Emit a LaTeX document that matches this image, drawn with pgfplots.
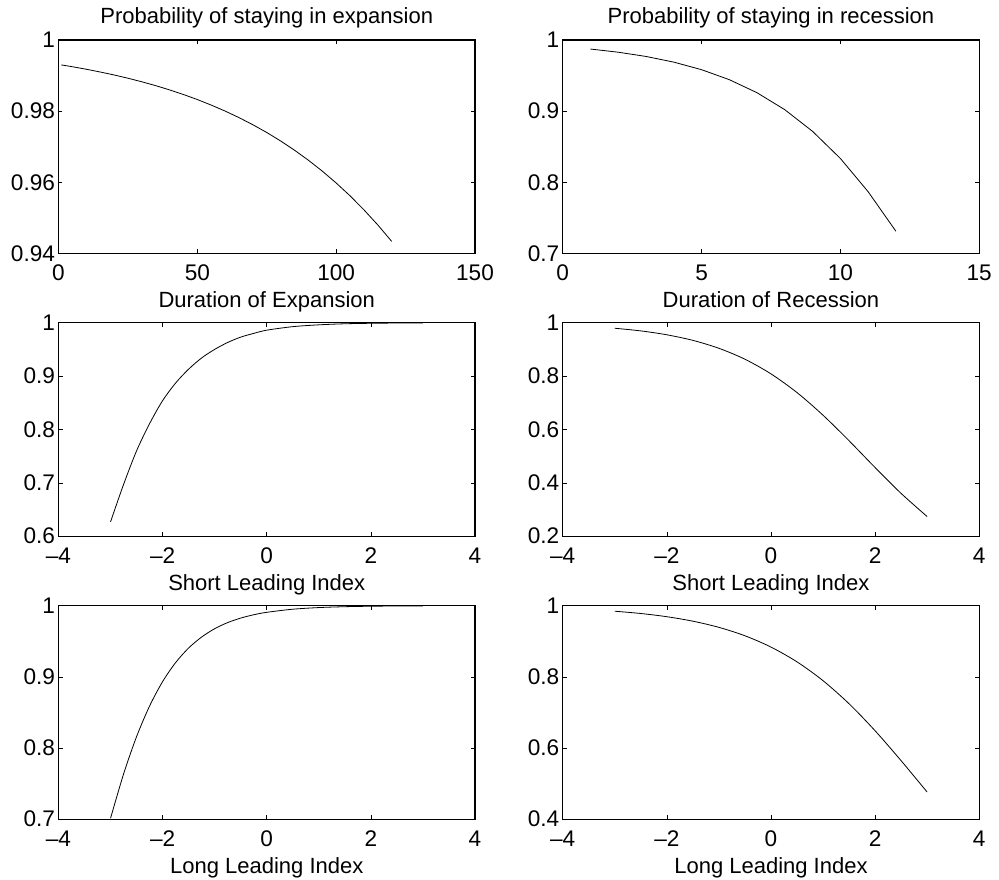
\documentclass[border=0pt]{standalone}
\usepackage{pgfplots}
\pgfplotsset{compat=1.18}
\usepackage{fontspec}
\setmainfont{Liberation Sans}
\newcommand{\fs}{\fontsize{22}{26}\selectfont}
\newcommand{\ft}{\fontsize{22.6}{26}\selectfont}
\pgfplotsset{
  mat/.style={
    scale only axis, width=416.5pt, height=213.5pt, anchor=north west,
    axis line style={line width=1.1pt},
    every tick/.style={black, line width=0.6pt},
    major tick length=4pt, tick align=inside,
    xtick pos=both, ytick pos=both, xticklabel pos=lower, yticklabel pos=left,
    tick label style={font=\ft},
    xticklabel style={yshift=-8pt},
    label style={font=\fs},
    xlabel style={yshift=-4pt},
    title style={font=\fs, yshift=2pt},
    /pgf/number format/assume math mode=true,
    scaled ticks=false, clip=true,
  },
  cur/.style={black, line width=0.8pt, mark=none},
}
\begin{document}
\begin{tikzpicture}
\useasboundingbox (0,0) rectangle (999pt,-880pt);
% Top left
\begin{axis}[mat, at={(58.5pt,-40pt)},
  title={Probability of staying in expansion}, xlabel={Duration of Expansion},
  xmin=0, xmax=150, ymin=0.94, ymax=1,
  xtick={0,50,100,150}, xticklabels={0,50,100,150},
  ytick={0.94,0.96,0.98,1}, yticklabels={0.94,0.96,0.98,1}]
\addplot[cur] coordinates {(1,0.9930) (5,0.99249) (10,0.99178) (15,0.99101) (20,0.99018) (25,0.98926) (30,0.98826) (35,0.98717) (40,0.98598) (45,0.98468) (50,0.98327) (55,0.98171) (60,0.98003) (65,0.97819) (70,0.97618) (75,0.97401) (80,0.97162) (85,0.96903) (90,0.96621) (95,0.96315) (100,0.95982) (105,0.95621) (110,0.95227) (115,0.94802) (120,0.94340)};
\end{axis}
% Top right
\begin{axis}[mat, at={(562.7pt,-40pt)},
  title={Probability of staying in recession}, xlabel={Duration of Recession},
  xmin=0, xmax=15, ymin=0.7, ymax=1,
  xtick={0,5,10,15}, xticklabels={0,5,10,15},
  ytick={0.7,0.8,0.9,1}, yticklabels={0.7,0.8,0.9,1}]
\addplot[cur] coordinates {(1,0.98729) (2,0.98284) (3,0.97689) (4,0.96891) (5,0.95829) (6,0.94428) (7,0.92588) (8,0.90202) (9,0.87158) (10,0.83357) (11,0.78682) (12,0.73126)};
\end{axis}
% Middle left
\begin{axis}[mat, at={(58.5pt,-322.7pt)},
  xlabel={Short Leading Index},
  xmin=-4, xmax=4, ymin=0.6, ymax=1,
  xtick={-4,-2,0,2,4}, xticklabels={\textendash4,\textendash2,0,2,4},
  ytick={0.6,0.7,0.8,0.9,1}, yticklabels={0.6,0.7,0.8,0.9,1}]
\addplot[cur, smooth] coordinates {(-3,0.627) (-2.75,0.697) (-2.5,0.760) (-2.25,0.811) (-2,0.854) (-1.75,0.887) (-1.5,0.913) (-1.25,0.934) (-1,0.950) (-0.75,0.963) (-0.5,0.973) (-0.25,0.980) (0,0.986) (0.5,0.9926) (1,0.996) (1.5,0.998) (2,0.9989) (2.5,0.9994) (3,0.9997)};
\end{axis}
% Middle right
\begin{axis}[mat, at={(562.7pt,-322.7pt)},
  xlabel={Short Leading Index},
  xmin=-4, xmax=4, ymin=0.2, ymax=1,
  xtick={-4,-2,0,2,4}, xticklabels={\textendash4,\textendash2,0,2,4},
  ytick={0.2,0.4,0.6,0.8,1}, yticklabels={0.2,0.4,0.6,0.8,1}]
\addplot[cur, smooth] coordinates {(-3,0.97924) (-2.5,0.96929) (-2,0.95474) (-1.5,0.93383) (-1,0.90413) (-0.5,0.86318) (0,0.80830) (0.5,0.73828) (1,0.65340) (1.5,0.55775) (2,0.45735) (2.5,0.36032) (3,0.27369)};
\end{axis}
% Bottom left
\begin{axis}[mat, at={(58.5pt,-605.7pt)},
  xlabel={Long Leading Index},
  xmin=-4, xmax=4, ymin=0.7, ymax=1,
  xtick={-4,-2,0,2,4}, xticklabels={\textendash4,\textendash2,0,2,4},
  ytick={0.7,0.8,0.9,1}, yticklabels={0.7,0.8,0.9,1}]
\addplot[cur, smooth] coordinates {(-3,0.7014) (-2.75,0.7635) (-2.5,0.8161) (-2.25,0.8591) (-2,0.8934) (-1.75,0.9201) (-1.5,0.9406) (-1.25,0.9560) (-1,0.9677) (-0.75,0.9763) (-0.5,0.9826) (-0.25,0.98728) (0,0.99071) (0.5,0.99506) (1,0.99738) (1.5,0.99861) (2,0.99926) (2.5,0.99961) (3,0.99979)};
\end{axis}
% Bottom right
\begin{axis}[mat, at={(562.7pt,-605.7pt)},
  xlabel={Long Leading Index},
  xmin=-4, xmax=4, ymin=0.4, ymax=1,
  xtick={-4,-2,0,2,4}, xticklabels={\textendash4,\textendash2,0,2,4},
  ytick={0.4,0.6,0.8,1}, yticklabels={0.4,0.6,0.8,1}]
\addplot[cur, smooth] coordinates {(-3,0.98452) (-2.5,0.97810) (-2,0.96908) (-1.5,0.95653) (-1,0.93918) (-0.5,0.91553) (0,0.88380) (0.5,0.84225) (1,0.78935) (1.5,0.72453) (2,0.64863) (2.5,0.56444) (3,0.47627)};
\end{axis}
\end{tikzpicture}
\end{document}
